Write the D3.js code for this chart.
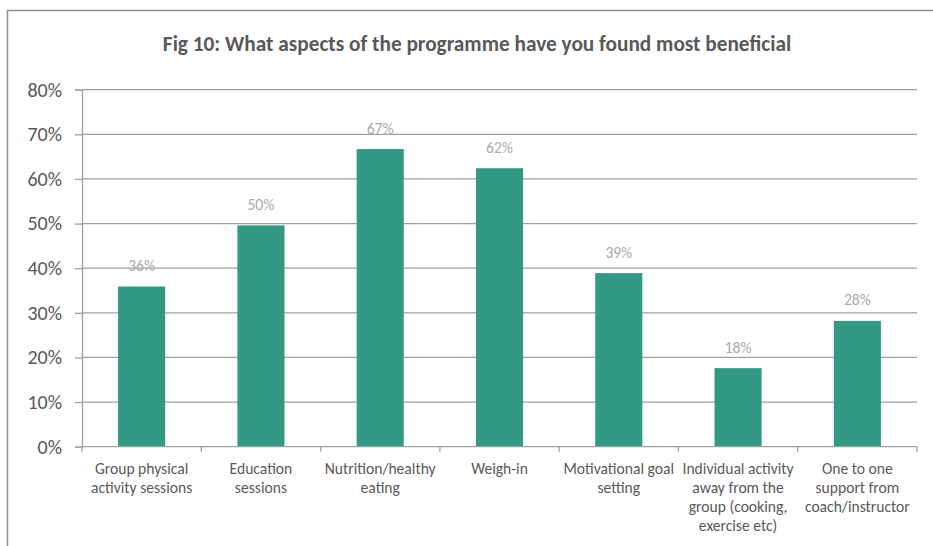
<!DOCTYPE html>
<html>
<head>
<meta charset="utf-8">
<script src="https://cdn.jsdelivr.net/npm/d3@7"></script>
<style>
  html, body { margin: 0; padding: 0; background: #fff; }
  svg { display: block; }
  text { font-family: Calibri, Carlito, Lato, "Open Sans", sans-serif; }
</style>
</head>
<body>
<svg id="chart" width="933" height="546"></svg>
<script>
// Survey responses: share of participants naming each aspect as most beneficial
const categories = [
  ["Group physical", "activity sessions"],
  ["Education", "sessions"],
  ["Nutrition/healthy", "eating"],
  ["Weigh-in"],
  ["Motivational goal", "setting"],
  ["Individual activity", "away from the", "group (cooking,", "exercise etc)"],
  ["One to one", "support from", "coach/instructor"]
];
const values = [0.359, 0.496, 0.667, 0.624, 0.389, 0.176, 0.282];
const yTicks = [0, 0.1, 0.2, 0.3, 0.4, 0.5, 0.6, 0.7, 0.8];
const title = "Fig 10: What aspects of the programme have you found most beneficial";

const svg = d3.select("#chart");
const plot = { left: 82, right: 917, top: 89.7, bottom: 446.7 };

const gridColor = "#a0a0a0";
const textColor = "#595959";
const labelColor = "#a9a9a9";
const barColor = "#339985";

// outer chart frame
svg.append("rect")
  .attr("x", 7.5).attr("y", 10.5)
  .attr("width", 960).attr("height", 560)
  .attr("fill", "none").attr("stroke", "#8f8f8f").attr("stroke-width", 1.5);

// title
svg.append("text")
  .attr("x", 477).attr("y", 50.5)
  .attr("text-anchor", "middle")
  .attr("font-weight", "bold")
  .attr("font-size", 21.3)
  .attr("fill", textColor)
  .text(title);

const x = d3.scaleBand()
  .domain(d3.range(categories.length))
  .range([plot.left, plot.right])
  .paddingInner(0.605).paddingOuter(0.3025);

const y = d3.scaleLinear().domain([0, 0.8]).range([plot.bottom, plot.top]);

// horizontal gridlines
svg.append("g")
  .selectAll("line")
  .data(yTicks.slice(1))
  .join("line")
  .attr("x1", plot.left).attr("x2", plot.right)
  .attr("y1", d => y(d)).attr("y2", d => y(d))
  .attr("stroke", gridColor).attr("stroke-width", 1.3);

// y axis
const yAxis = svg.append("g")
  .attr("transform", `translate(${plot.left},0)`)
  .call(d3.axisLeft(y).tickValues(yTicks).tickFormat(d3.format(".0%")).tickSize(7).tickPadding(13));
yAxis.select(".domain").attr("stroke", gridColor).attr("stroke-width", 1.3);
yAxis.selectAll(".tick line").attr("stroke", gridColor).attr("stroke-width", 1.3);
yAxis.selectAll(".tick text")
  .attr("fill", textColor)
  .attr("font-size", 20)
  .style("font-family", "Calibri, Carlito, Lato, 'Open Sans', sans-serif");

// bars
svg.append("g")
  .selectAll("rect")
  .data(values)
  .join("rect")
  .attr("x", (d, i) => x(i))
  .attr("width", x.bandwidth())
  .attr("y", d => y(d))
  .attr("height", d => y(0) - y(d))
  .attr("fill", barColor);

// value labels
svg.append("g")
  .selectAll("text")
  .data(values)
  .join("text")
  .attr("x", (d, i) => x(i) + x.bandwidth() / 2)
  .attr("y", d => y(d) - 15.5)
  .attr("text-anchor", "middle")
  .attr("font-size", 15.5)
  .attr("fill", labelColor)
  .text(d => d3.format(".0%")(d));

// x axis baseline and category boundary ticks
const step = x.step();
const bounds = d3.range(categories.length + 1).map(i => plot.left + i * step);
svg.append("line")
  .attr("x1", plot.left).attr("x2", plot.right)
  .attr("y1", y(0)).attr("y2", y(0))
  .attr("stroke", gridColor).attr("stroke-width", 1.3);
svg.append("g")
  .selectAll("line")
  .data(bounds)
  .join("line")
  .attr("x1", d => d).attr("x2", d => d)
  .attr("y1", y(0)).attr("y2", y(0) + 5)
  .attr("stroke", gridColor).attr("stroke-width", 1.3);

// category labels
const catG = svg.append("g")
  .selectAll("text")
  .data(categories)
  .join("text")
  .attr("x", (d, i) => x(i) + x.bandwidth() / 2)
  .attr("y", 473.5)
  .attr("text-anchor", "middle")
  .attr("font-size", 15.6)
  .attr("fill", textColor);
catG.selectAll("tspan")
  .data(d => d)
  .join("tspan")
  .attr("x", function() { return this.parentNode.getAttribute("x"); })
  .attr("dy", (d, i) => i === 0 ? 0 : 19.3)
  .text(d => d);
</script>
</body>
</html>
